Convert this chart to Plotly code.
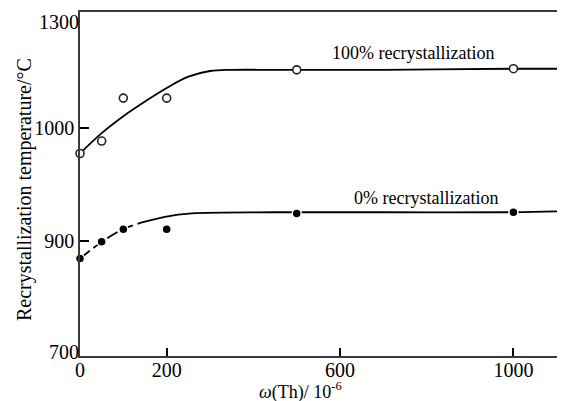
import plotly.graph_objects as go

# ---- data ----
th_points = [0, 50, 100, 200, 500, 1000]
full_recryst_pts = [977, 988, 1026, 1026, 1051, 1052]      # hollow circles (100%)
zero_recryst_pts = [884, 899, 910, 910, 924, 925]          # filled circles (0%)

curve_x_full = [0, 50, 100, 150, 200, 250, 300, 350, 450, 700, 1000, 1119]
curve_y_full = [977, 995, 1010, 1023, 1035, 1045, 1050, 1051, 1051, 1051, 1052, 1052]

curve_x_zero = [0, 51, 99, 143, 196, 258, 450, 700, 1000, 1119]
curve_y_zero = [884, 899, 910, 916, 921, 924, 925, 925, 925, 926]

x_tick_vals = [0, 200, 600, 1000]
x_tick_text = ["0", "200", "600", "1000"]
y_tick_vals_major = [900, 1000]
y_tick_text_major = ["900", "1000"]
y_tick_vals_end = [801, 1093]
y_tick_text_end = ["700", "1300"]

label_full = "100% recrystallization"
label_zero = "0% recrystallization"
label_full_pos = (768, 1066)
label_zero_pos = (798, 938)

SERIF = "Liberation Serif, Times New Roman, serif"
AXC = "#3a3a3a"

fig = go.Figure()

# 100% curve
fig.add_trace(go.Scatter(x=curve_x_full, y=curve_y_full, mode="lines",
                         line=dict(color="black", width=1.8, shape="spline", smoothing=1.0),
                         hoverinfo="skip", showlegend=False))
# 0% curve: dashed early part, solid plateau
fig.add_trace(go.Scatter(x=curve_x_zero[:4], y=curve_y_zero[:4], mode="lines",
                         line=dict(color="black", width=1.8, dash="12px,5px", shape="spline", smoothing=1.0),
                         hoverinfo="skip", showlegend=False))
fig.add_trace(go.Scatter(x=curve_x_zero[3:], y=curve_y_zero[3:], mode="lines",
                         line=dict(color="black", width=1.8, shape="spline", smoothing=1.0),
                         hoverinfo="skip", showlegend=False))

fig.add_trace(go.Scatter(x=th_points, y=full_recryst_pts, mode="markers",
                         marker=dict(symbol="circle", size=8, color="white",
                                     line=dict(color="#222", width=1.6)),
                         cliponaxis=False, showlegend=False))
fig.add_trace(go.Scatter(x=th_points, y=zero_recryst_pts, mode="markers",
                         marker=dict(symbol="circle", size=9, color="black",
                                     line=dict(color="white", width=1.5)),
                         cliponaxis=False, showlegend=False))

# invisible trace to activate overlay y axis
fig.add_trace(go.Scatter(x=[0], y=[900], yaxis="y2", mode="markers",
                         marker=dict(opacity=0), hoverinfo="skip", showlegend=False))

yrange = [797.8, 1102.2]

# the page body adds an 8px offset, so the figure is 8px smaller on each side
fig.update_layout(
    width=557, height=393,
    margin=dict(l=72, r=0, t=4, b=45, autoexpand=False),
    paper_bgcolor="white", plot_bgcolor="white",
    font=dict(family=SERIF, color="black"),
    xaxis=dict(range=[0, 1119], tickvals=x_tick_vals, ticktext=x_tick_text,
               ticks="inside", ticklen=8, tickwidth=2, tickcolor="black",
               showline=True, linecolor=AXC, linewidth=1.6, mirror=True,
               showgrid=False, zeroline=False, automargin=False,
               ticklabelstandoff=-5,
               tickfont=dict(family=SERIF, size=20, color="black")),
    yaxis=dict(range=yrange, tickvals=y_tick_vals_major, ticktext=y_tick_text_major,
               ticks="inside", ticklen=9, tickwidth=2.2, tickcolor="black",
               showline=True, linecolor=AXC, linewidth=1.6,
               showgrid=False, zeroline=False, automargin=False,
               tickfont=dict(family=SERIF, size=20, color="black")),
    yaxis2=dict(range=yrange, overlaying="y", side="left", tickvals=y_tick_vals_end,
                ticktext=y_tick_text_end, ticks="", showline=False, showgrid=False,
                zeroline=False, automargin=False,
                tickfont=dict(family=SERIF, size=20, color="black")),
    annotations=[
        dict(x=label_full_pos[0], y=label_full_pos[1], xref="x", yref="y",
             text=label_full, showarrow=False,
             font=dict(family=SERIF, size=18, color="black")),
        dict(x=label_zero_pos[0], y=label_zero_pos[1], xref="x", yref="y",
             text=label_zero, showarrow=False,
             font=dict(family=SERIF, size=18, color="black")),
        dict(x=-0.113, y=0.483, xref="paper", yref="paper", textangle=-90,
             text="Recrystallization temperature/°C", showarrow=False,
             xanchor="center", yanchor="middle",
             font=dict(family=SERIF, size=20, color="black")),
        dict(x=0.454, y=-0.101, xref="paper", yref="paper",
             text="<i>ω</i>(Th)/ 10<sup>-6</sup>", showarrow=False,
             xanchor="center", yanchor="middle",
             font=dict(family=SERIF, size=18, color="black")),
    ],
)

fig.write_html("out.html")
